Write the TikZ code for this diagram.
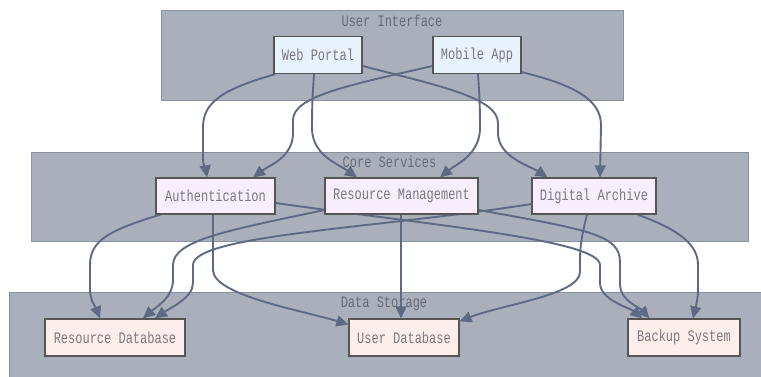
\documentclass[tikz,border=0pt]{standalone}
\usepackage{fontspec}
\usetikzlibrary{arrows.meta,calc}
\newfontfamily\diagfont[FakeStretch=0.75]{Liberation Mono}

\definecolor{clusterfill}{HTML}{A9B0BC}
\definecolor{clusterline}{HTML}{8A919E}
\definecolor{titletext}{HTML}{676D78}
\definecolor{nodetext}{HTML}{7A7A7A}
\definecolor{nodeline}{HTML}{555555}
\definecolor{uifill}{HTML}{E7F2FC}
\definecolor{corefill}{HTML}{F6EEFC}
\definecolor{storefill}{HTML}{FDEEEC}
\definecolor{edgecol}{HTML}{5E6A84}

\pgfdeclarelayer{clusters}
\pgfdeclarelayer{edges}
\pgfsetlayers{clusters,edges,main}

\tikzset{
  cluster/.style={draw=clusterline, fill=clusterfill, line width=0.8pt},
  clustertitle/.style={text=titletext, font=\diagfont\fontsize{16}{18}\selectfont, inner sep=0pt},
  box/.style={draw=nodeline, line width=1.2pt, text=nodetext,
    font=\diagfont\fontsize{16}{18}\selectfont, inner sep=0pt,
    minimum height=37pt},
  uibox/.style={box, fill=uifill},
  corebox/.style={box, fill=corefill},
  storebox/.style={box, fill=storefill},
  edge/.style={draw=edgecol, line width=1.9pt,
    -{Triangle[length=12pt,width=11pt]}},
}

\begin{document}
\begin{tikzpicture}[x=1pt, y=-1pt]
\useasboundingbox (0,0) rectangle (761,376);

% nodes
\node[uibox, minimum width=88pt] (wp) at (318,55) {Web Portal};
\node[uibox, minimum width=88pt] (ma) at (477,55) {Mobile App};
\node[corebox, minimum width=119pt, minimum height=36pt] (auth) at (215.5,196) {Authentication};
\node[corebox, minimum width=153pt, minimum height=36pt] (rm) at (401.5,196) {Resource Management};
\node[corebox, minimum width=124pt, minimum height=36pt] (da) at (594,196) {Digital Archive};
\node[storebox, minimum width=140pt] (rdb) at (115,337.5) {Resource Database};
\node[storebox, minimum width=110pt] (udb) at (404,337.5) {User Database};
\node[storebox, minimum width=112pt] (bk) at (684,337.5) {Backup System};

% cluster frames and titles
\begin{pgfonlayer}{clusters}
  \draw[cluster] (161,10) rectangle (623,100);
  \node[clustertitle] (tui) at (392,21) {User Interface};
  \draw[cluster] (31,152) rectangle (748,241);
  \node[clustertitle] (tcore) at (389.5,162) {Core Services};
  \draw[cluster] (9,292) rectangle (764,380);
  \node[clustertitle] (tdata) at (384,304) {Data Storage};
\end{pgfonlayer}

% connectors
\begin{pgfonlayer}{edges}
  % user interface -> core services
  \draw[edge] ($(wp.south west)+(2,0)$) .. controls (220,90) and (203,103) .. (203,128)
     -- (203,158) .. controls (203,166) and (206,171) .. ($(auth.north)+(-8.5,0)$);
  \draw[edge] ($(wp.south)+(-4,0)$) .. controls (313,90) and (312,100) .. (312,128)
     .. controls (312,155) and (338,164) .. ($(rm.north)+(-44.5,0)$);
  \draw[edge] ($(wp.east)+(0,11)$) .. controls (440,86) and (498,98) .. (498,123)
     -- (498,133) .. controls (498,157) and (530,166) .. ($(da.north west)+(16,0)$);
  \draw[edge] ($(ma.west)+(0,11)$) .. controls (350,85) and (293,96) .. (293,120)
     -- (293,133) .. controls (293,157) and (270,165) .. ($(auth.north)+(37.5,0)$);
  \draw[edge] ($(ma.south)+(1,0)$) .. controls (479,90) and (480,100) .. (480,128)
     .. controls (480,155) and (455,165) .. ($(rm.north)+(38.5,0)$);
  \draw[edge] ($(ma.south east)+(0,-2)$) .. controls (575,85) and (601,100) .. (601,125)
     -- ($(da.north)+(6,0)$);
  % core services -> data storage
  \draw[edge] ($(auth.south west)+(5,0)$) .. controls (110,230) and (90,240) .. (90,265)
     -- (90,290) .. controls (90,300) and (96,308) .. ($(rdb.north)+(-15,0)$);
  \draw[edge] ($(auth.south)+(-2.5,0)$) -- (213,270)
     .. controls (213,295) and (300,310) .. ($(udb.north west)+(0,6)$);
  \draw[edge] ($(auth.east)+(0,7)$) .. controls (430,225) and (600,240) .. (600,265)
     -- (600,283) .. controls (600,300) and (630,308) .. ($(bk.north west)+(15,0)$);
  \draw[edge] ($(rm.west)+(0,14)$) .. controls (230,230) and (173,240) .. (173,265)
     -- (173,280) .. controls (173,298) and (155,308) .. ($(rdb.north)+(28,0)$);
  \draw[edge] (rm.south -| 401,0) -- (udb.north -| 401,0);
  \draw[edge] ($(rm.east)+(0,14)$) .. controls (590,230) and (620,235) .. (620,262)
     -- (620,285) .. controls (620,300) and (640,308) .. ($(bk.north west)+(22,0)$);
  \draw[edge] ($(da.west)+(0,8)$) .. controls (380,228) and (193,235) .. (193,265)
     -- (193,283) .. controls (193,298) and (170,308) .. ($(rdb.north)+(40,0)$);
  \draw[edge] ($(da.south)+(-7,0)$) .. controls (582,235) and (580,245) .. (580,260)
     -- (580,272) .. controls (580,295) and (500,305) .. ($(udb.north east)+(0,3)$);
  \draw[edge] ($(da.south east)+(-19,0)$) .. controls (680,230) and (698,245) .. (698,265)
     -- (698,290) .. controls (698,300) and (695,310) .. ($(bk.north)+(9,0)$);
\end{pgfonlayer}
\end{tikzpicture}
\end{document}
